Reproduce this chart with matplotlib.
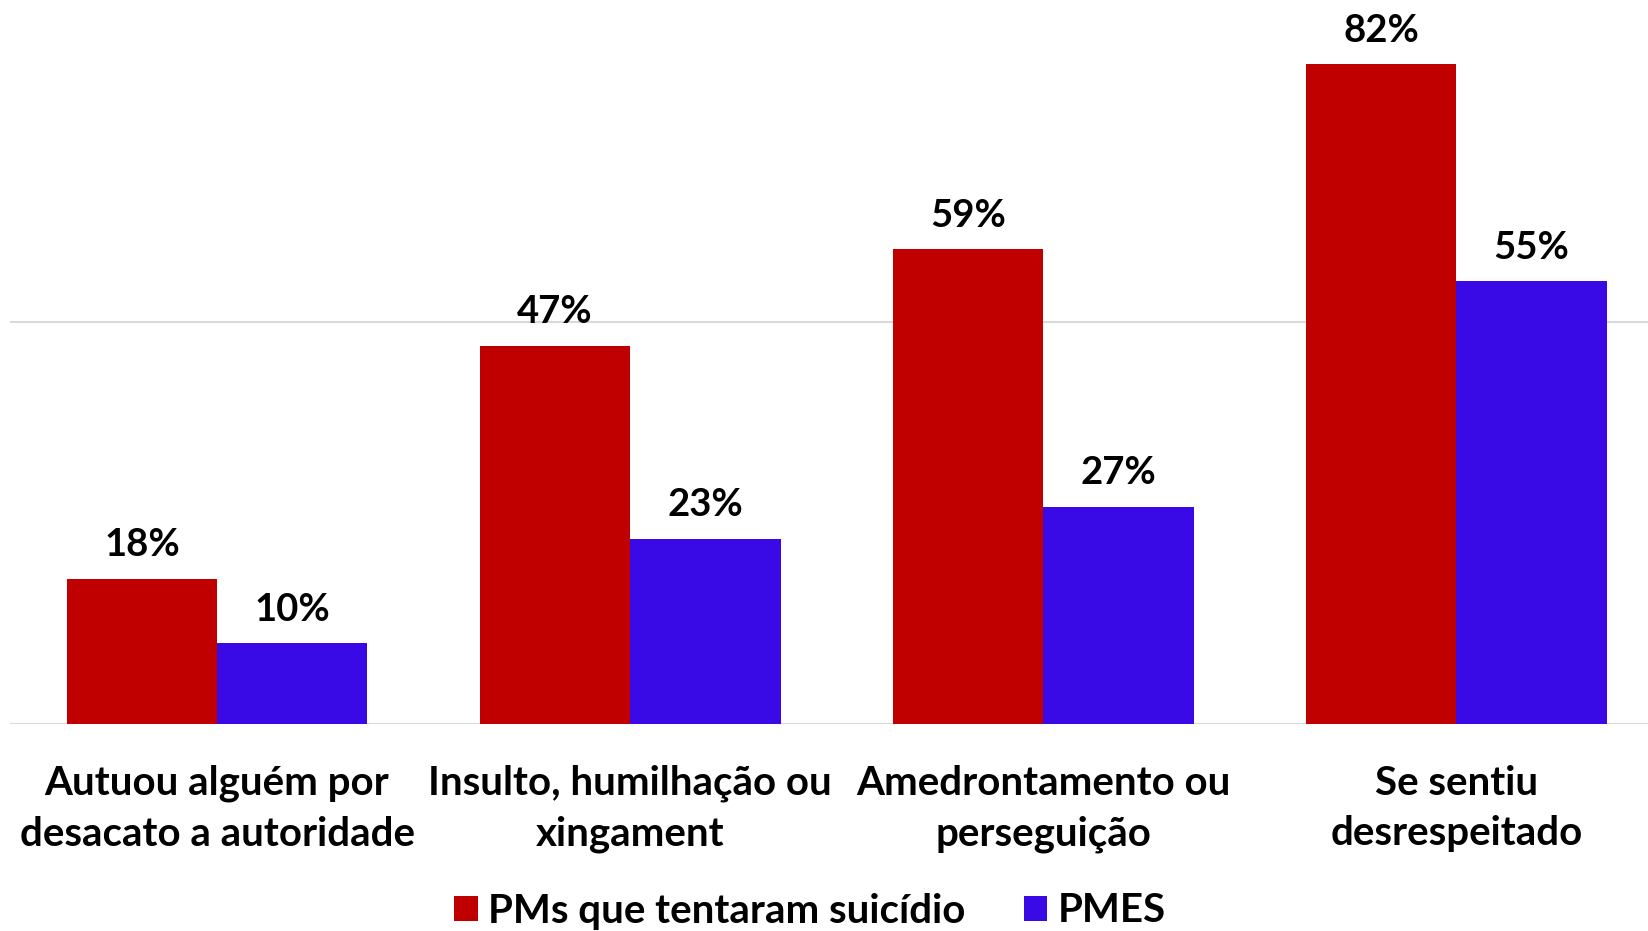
import matplotlib
matplotlib.use('Agg')
import matplotlib.pyplot as plt
import numpy as np

# dados
categorias = ['Autuou alguém por\ndesacato a autoridade',
              'Insulto, humilhação ou\nxingament',
              'Amedrontamento ou\nperseguição',
              'Se sentiu\ndesrespeitado']
pms_suicidio = [18, 47, 59, 82]
pmes = [10, 23, 27, 55]
series_nomes = ['PMs que tentaram suicídio', 'PMES']

cor_vermelho = '#C00000'
cor_azul = '#3A0AE6'

plt.rcParams['font.family'] = ['Lato', 'DejaVu Sans']
plt.rcParams['font.weight'] = 'bold'

fig = plt.figure(figsize=(16.49, 9.31), dpi=100)
ax = fig.add_axes([10.5 / 1649, 1 - 723.6 / 931, 1 - 10.5 / 1649, 723.6 / 931])

x = np.arange(len(categorias))
w = 0.364
b1 = ax.bar(x - w / 2, pms_suicidio, w, color=cor_vermelho, label=series_nomes[0], zorder=3)
b2 = ax.bar(x + w / 2, pmes, w, color=cor_azul, label=series_nomes[1], zorder=3)

for barras in (b1, b2):
    for r in barras:
        ax.annotate(f'{r.get_height():.0f}%', (r.get_x() + r.get_width() / 2, r.get_height()),
                    xytext=(0, 12), textcoords='offset points', ha='center', va='bottom',
                    fontsize=27.5, fontweight='bold')

ax.set_xlim(-0.5, 3.466)
ax.set_ylim(0, 90)
ax.set_yticks([0, 50])
ax.yaxis.grid(True, color='#D9D9D9', linewidth=1.5, zorder=0)
ax.tick_params(axis='y', left=False, labelleft=False)
ax.tick_params(axis='x', bottom=False, pad=26)
ax.set_xticks(x)
ax.set_xticklabels(categorias, fontsize=29, fontweight='bold', linespacing=1.45)
for s in ax.spines.values():
    s.set_visible(False)

fig.legend(loc='center', bbox_to_anchor=(810 / 1649, 1 - 911 / 931), ncol=2, frameon=False,
           fontsize=29, handlelength=0.58, handleheight=0.58, columnspacing=1.45, handletextpad=0.26)

fig.savefig('out.png', dpi=100)
